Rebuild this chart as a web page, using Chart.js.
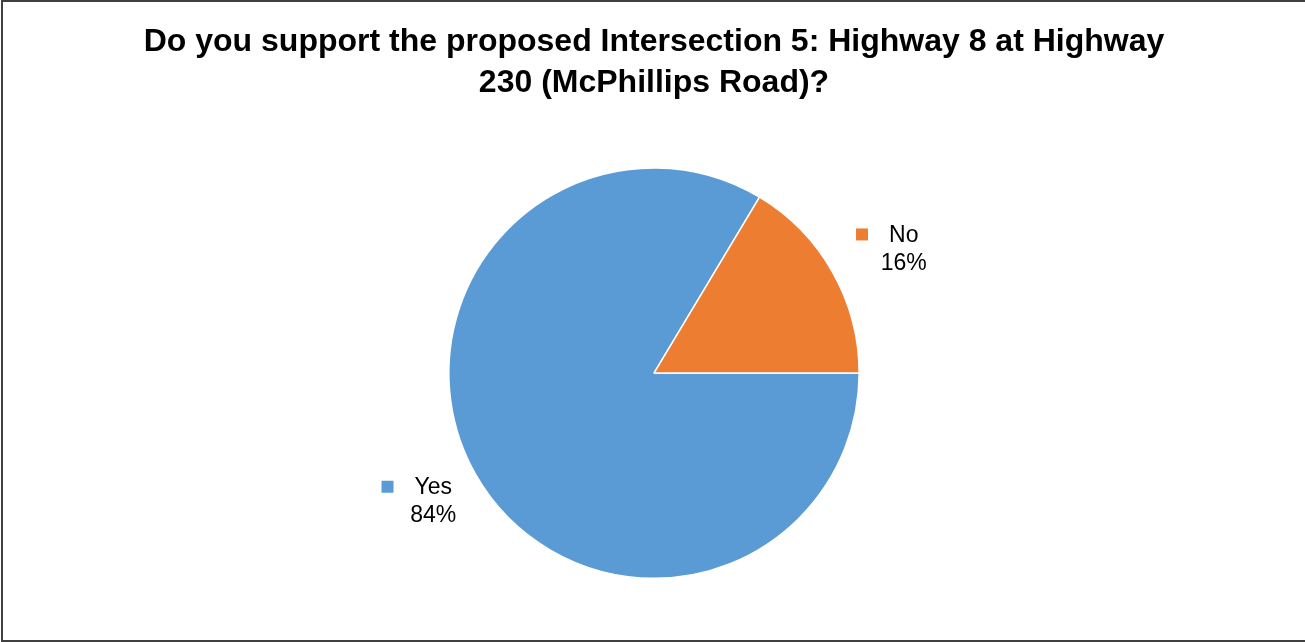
<!DOCTYPE html>
<html>
<head>
<meta charset="utf-8">
<script src="https://cdn.jsdelivr.net/npm/chart.js@4/dist/chart.umd.min.js"></script>
<style>
  html, body { margin: 0; padding: 0; background: #ffffff; overflow: hidden; }
  canvas { display: block; }
</style>
</head>
<body>
<canvas id="pieChart" width="1305" height="642"></canvas>
<script>
// Chart data
const titleLines = ["Do you support the proposed Intersection 5: Highway 8 at Highway", "230 (McPhillips Road)?"];
const categories = ["Yes", "No"];
const percentages = [83.6, 16.4];
const sliceColors = ["#5B9BD5", "#ED7D31"];

// Frame on the left, top and bottom edges (right edge is cut off in the original)
const frameLines = {
  id: "frameLines",
  afterDraw(chart) {
    const ctx = chart.ctx;
    const w = chart.width, h = chart.height;
    ctx.save();
    ctx.strokeStyle = "#404040";
    ctx.lineWidth = 2;
    ctx.beginPath();
    ctx.moveTo(w + 5, 1);
    ctx.lineTo(2, 1);
    ctx.lineTo(2, h - 1);
    ctx.lineTo(w + 5, h - 1);
    ctx.stroke();
    ctx.restore();
  }
};

// Draws Excel-style data labels (legend key + name + percent) outside each slice
const outsideLabels = {
  id: "outsideLabels",
  afterDatasetsDraw(chart, args, opts) {
    const ctx = chart.ctx;
    const meta = chart.getDatasetMeta(0);
    const values = chart.data.datasets[0].data;
    const total = values.reduce((a, b) => a + b, 0);

    meta.data.forEach((arc, i) => {
      const p = arc.getProps(["x", "y", "startAngle", "endAngle", "outerRadius"], true);
      const mid = (p.startAngle + p.endAngle) / 2;
      const dist = p.outerRadius + opts.offset;
      const nudge = opts.nudges[i];
      const cx = p.x + Math.cos(mid) * dist + nudge[0];
      const cy = p.y + Math.sin(mid) * dist + nudge[1];

      const name = chart.data.labels[i];
      const pct = Math.round(values[i] / total * 100) + "%";

      ctx.save();
      ctx.font = "23px 'Liberation Sans', Arial, sans-serif";
      ctx.fillStyle = "#000000";
      ctx.textAlign = "center";
      ctx.textBaseline = "middle";
      const y1 = cy - 13;
      const y2 = cy + 15;
      ctx.fillText(name, cx, y1);
      ctx.fillText(pct, cx, y2);

      // small legend key square left of the name
      const w = ctx.measureText(name).width;
      ctx.fillStyle = chart.data.datasets[0].backgroundColor[i];
      ctx.fillRect(cx - w / 2 - 21 - 12, y1 - 7, 12, 12);
      ctx.restore();
    });
  }
};

const chart = new Chart(document.getElementById("pieChart").getContext("2d"), {
  type: "pie",
  data: {
    labels: categories,
    datasets: [{
      data: percentages,
      backgroundColor: sliceColors,
      borderColor: "#ffffff",
      borderWidth: 1.5
    }]
  },
  options: {
    responsive: false,
    animation: false,
    rotation: 90,
    layout: { padding: { left: 3, bottom: 63 } },
    plugins: {
      legend: { display: false },
      tooltip: { enabled: false },
      title: {
        display: true,
        text: titleLines,
        color: "#000000",
        font: { family: "'Liberation Sans', Arial, sans-serif", size: 32, weight: "bold", lineHeight: 1.3 },
        padding: { top: 21, bottom: 63 }
      },
      outsideLabels: { offset: 60, nudges: [[10, -3], [19, 6]] }
    }
  },
  plugins: [outsideLabels, frameLines]
});
</script>
</body>
</html>
